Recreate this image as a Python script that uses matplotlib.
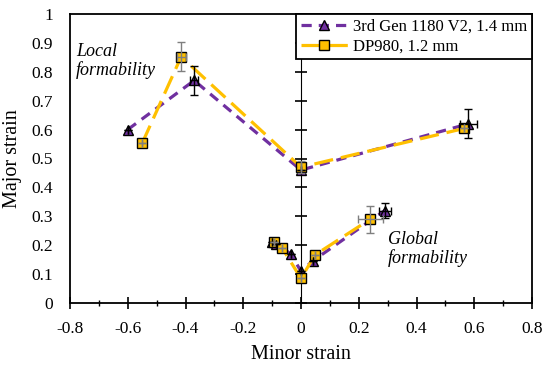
import matplotlib
matplotlib.use("Agg")
import matplotlib.pyplot as plt
from matplotlib.ticker import MultipleLocator, NullFormatter

# ---- data ----
gen3_local_x = [-0.60, -0.37, 0.00, 0.58]
gen3_local_y = [0.60, 0.77, 0.46, 0.62]
gen3_local_xerr = [0.0, 0.015, 0.0, 0.03]
gen3_local_yerr = [0.0, 0.05, 0.0, 0.05]

gen3_global_x = [-0.10, -0.085, -0.036, 0.00, 0.04, 0.29]
gen3_global_y = [0.21, 0.205, 0.17, 0.11, 0.145, 0.32]
gen3_global_xerr = [0.0, 0.0, 0.0, 0.0, 0.0, 0.02]
gen3_global_yerr = [0.0, 0.0, 0.0, 0.0, 0.0, 0.025]

dp_local_x = [-0.55, -0.415, 0.00, 0.565]
dp_local_y = [0.553, 0.852, 0.47, 0.604]
dp_local_xerr = [0.0, 0.015, 0.0, 0.0]
dp_local_yerr = [0.0, 0.05, 0.02, 0.0]

dp_global_x = [-0.092, -0.065, 0.00, 0.048, 0.24]
dp_global_y = [0.212, 0.19, 0.085, 0.166, 0.29]
dp_global_xerr = [0.0, 0.0, 0.0, 0.0, 0.044]
dp_global_yerr = [0.0, 0.0, 0.0, 0.0, 0.047]

x_ticks = [-0.8, -0.6, -0.4, -0.2, 0, 0.2, 0.4, 0.6, 0.8]
x_ticklabels = ["-0.8", "-0.6", "-0.4", "-0.2", "0", "0.2", "0.4", "0.6", "0.8"]
y_ticks = [0, 0.1, 0.2, 0.3, 0.4, 0.5, 0.6, 0.7, 0.8, 0.9, 1.0]
y_ticklabels = ["0", "0.1", "0.2", "0.3", "0.4", "0.5", "0.6", "0.7", "0.8", "0.9", "1"]

gen3_label = "3rd Gen 1180 V2, 1.4 mm"
dp_label = "DP980, 1.2 mm"

purple = "#7030A0"
gold = "#FFC000"

plt.rcParams['font.family'] = ['Liberation Serif', 'DejaVu Serif']

fig = plt.figure(figsize=(5.5, 3.66), dpi=100)
ax = fig.add_axes([70/550, 1-303/366, (532-70)/550, (303-14)/366])

def series(x, y, xe, ye, color, marker, dashes, ecolor, label=None, ms=7):
    ax.plot(x, y, color=color, lw=2.3, dashes=dashes, marker=marker, ms=ms,
            mfc=color, mec="black", mew=1.0, label=label, zorder=3)
    ax.errorbar(x, y, xerr=xe, yerr=ye, fmt="none", ecolor=ecolor,
                elinewidth=1.0, capsize=3, capthick=1.0, zorder=4)

series(gen3_local_x, gen3_local_y, gen3_local_xerr, gen3_local_yerr,
       purple, "^", (3.2, 2.2), "black", gen3_label)
series(gen3_global_x, gen3_global_y, gen3_global_xerr, gen3_global_yerr,
       purple, "^", (3.2, 2.2), "black")
series(dp_local_x, dp_local_y, dp_local_xerr, dp_local_yerr,
       gold, "s", (6.0, 2.5), "#7f7f7f", dp_label, ms=6.5)
series(dp_global_x, dp_global_y, dp_global_xerr, dp_global_yerr,
       gold, "s", (6.0, 2.5), "#7f7f7f", ms=6.5)

ax.set_xticks(x_ticks)
ax.set_xticklabels(x_ticklabels)
ax.xaxis.set_minor_locator(MultipleLocator(0.1))
ax.set_yticks(y_ticks)
ax.set_yticklabels(y_ticklabels)
ax.set_xlim(-0.8, 0.8)
ax.set_ylim(0, 1)
ax.tick_params(axis="x", which="major", direction="inout", length=8, width=1.2,
               labelsize=12.5, pad=9)
ax.tick_params(axis="x", which="minor", direction="inout", length=5, width=1.0)
ax.tick_params(axis="y", which="major", length=0, labelsize=12.5, pad=12)

for sp in ax.spines.values():
    sp.set_linewidth(1.3)

# vertical axis crossing at minor strain = 0
sec = ax.secondary_yaxis(0.5)
sec.set_yticks(y_ticks)
sec.yaxis.set_major_formatter(NullFormatter())
sec.tick_params(direction="inout", length=8, width=1.2)
sec.spines["left"].set_linewidth(1.3)

ax.set_xlabel("Minor strain", fontsize=14.5, labelpad=6)
ax.set_ylabel("Major strain", fontsize=14.5, labelpad=7)

ax.text(-0.78, 0.837, "Local\nformability", fontsize=13, style="italic",
        ha="left", va="center", linespacing=1.1)
ax.text(0.30, 0.187, "Global\nformability", fontsize=13, style="italic",
        ha="left", va="center", linespacing=1.1)

leg = ax.legend(loc="upper right", borderaxespad=0, fontsize=12, handlelength=2.8,
                frameon=True, fancybox=False, edgecolor="black", framealpha=1,
                handletextpad=0.3, labelspacing=0.2, borderpad=0.3)
leg.get_frame().set_linewidth(1.3)

fig.savefig("out.png", dpi=100)
